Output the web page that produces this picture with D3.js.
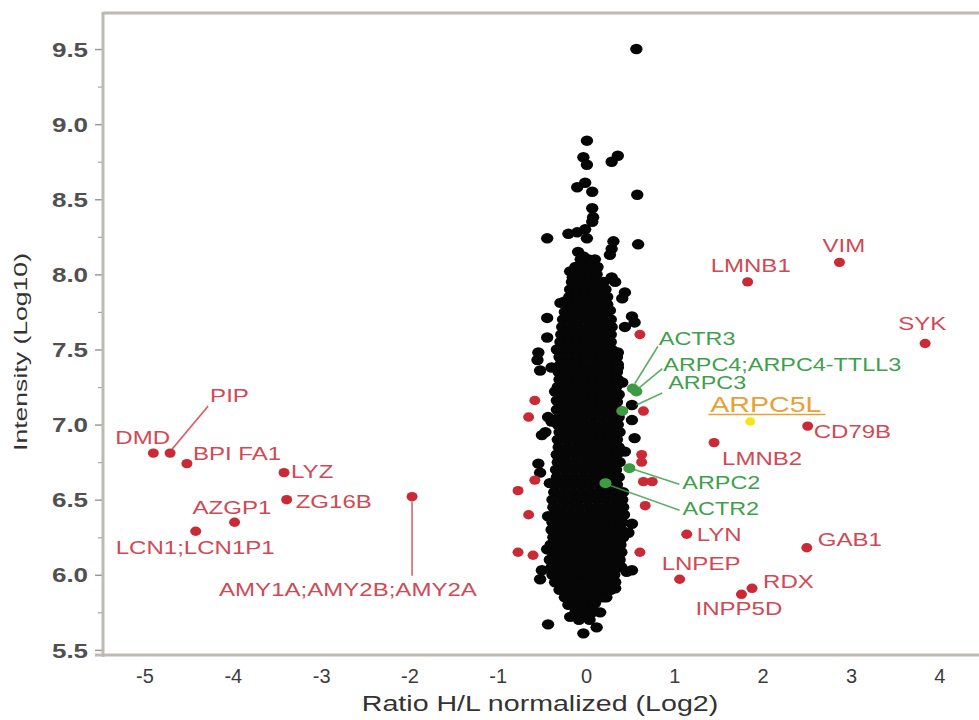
<!DOCTYPE html>
<html><head><meta charset="utf-8">
<script src="https://cdn.jsdelivr.net/npm/d3@7"></script>
<style>body{margin:0;background:#fff}</style>
</head><body><svg id="c" width="979" height="720"></svg>
<script>
// ---------- DATA ----------
const xTicks = [-5,-4,-3,-2,-1,0,1,2,3,4];
const yTicks = [5.5,6,6.5,7,7.5,8,8.5,9,9.5];
const yMinorTicks = [5.75,6.25,6.75,7.25,7.75,8.25,8.75,9.25];

// dense core of the unregulated proteins: [intensity, [ratios...]]
const cloudRows = [
 [8.10,[-0.06,0.03,0.10]],
 [8.05,[-0.12,-0.03,0.06,0.13]],
 [8.00,[-0.14,-0.05,0.04,0.12]],
 [7.95,[-0.16,-0.07,0.02,0.11,0.20]],
 [7.90,[-0.18,-0.09,0.00,0.09,0.17]],
 [7.85,[-0.19,-0.10,-0.01,0.08,0.17]],
 [7.80,[-0.21,-0.12,-0.03,0.06,0.15,0.24]],
 [7.75,[-0.24,-0.15,-0.05,0.04,0.13,0.21]],
 [7.70,[-0.26,-0.16,-0.07,0.02,0.11,0.20,0.28]],
 [7.65,[-0.27,-0.17,-0.08,0.02,0.11,0.20,0.29]],
 [7.60,[-0.28,-0.19,-0.09,0.00,0.10,0.19,0.28]],
 [7.55,[-0.29,-0.19,-0.10,0.00,0.09,0.19,0.28]],
 [7.50,[-0.28,-0.18,-0.09,0.01,0.10,0.20,0.29]],
 [7.45,[-0.30,-0.20,-0.10,-0.01,0.09,0.18,0.27,0.35]],
 [7.40,[-0.29,-0.19,-0.10,0.00,0.10,0.19,0.28,0.36]],
 [7.35,[-0.31,-0.21,-0.11,-0.02,0.08,0.17,0.27,0.35]],
 [7.30,[-0.30,-0.20,-0.10,-0.01,0.09,0.18,0.27,0.36]],
 [7.25,[-0.32,-0.22,-0.12,-0.03,0.07,0.16,0.26,0.34]],
 [7.20,[-0.30,-0.21,-0.11,-0.01,0.08,0.18,0.27,0.37]],
 [7.15,[-0.31,-0.21,-0.12,-0.02,0.08,0.17,0.26,0.35]],
 [7.10,[-0.33,-0.23,-0.13,-0.03,0.06,0.16,0.25,0.34]],
 [7.05,[-0.31,-0.21,-0.11,-0.02,0.08,0.18,0.28,0.37]],
 [7.00,[-0.32,-0.22,-0.12,-0.02,0.07,0.17,0.27,0.36]],
 [6.95,[-0.30,-0.20,-0.10,0.00,0.09,0.19,0.28,0.38]],
 [6.90,[-0.32,-0.22,-0.12,-0.02,0.07,0.17,0.26,0.35]],
 [6.85,[-0.31,-0.21,-0.11,-0.01,0.08,0.18,0.28,0.37]],
 [6.80,[-0.33,-0.23,-0.13,-0.03,0.07,0.16,0.26,0.35]],
 [6.75,[-0.32,-0.22,-0.12,-0.02,0.08,0.18,0.28,0.38]],
 [6.70,[-0.34,-0.24,-0.14,-0.04,0.06,0.15,0.25,0.34]],
 [6.65,[-0.33,-0.23,-0.13,-0.03,0.07,0.17,0.27,0.37]],
 [6.60,[-0.35,-0.25,-0.15,-0.05,0.05,0.15,0.25,0.35]],
 [6.55,[-0.36,-0.26,-0.16,-0.06,0.04,0.14,0.24,0.34,0.42]],
 [6.50,[-0.38,-0.28,-0.18,-0.08,0.02,0.12,0.22,0.32,0.41]],
 [6.45,[-0.37,-0.27,-0.17,-0.07,0.03,0.13,0.23,0.33,0.42]],
 [6.40,[-0.36,-0.26,-0.16,-0.06,0.04,0.14,0.24,0.34,0.43]],
 [6.35,[-0.38,-0.28,-0.18,-0.08,0.02,0.12,0.22,0.32,0.41]],
 [6.30,[-0.39,-0.29,-0.19,-0.09,0.01,0.11,0.21,0.31,0.40]],
 [6.25,[-0.37,-0.27,-0.17,-0.07,0.03,0.13,0.23,0.33,0.42]],
 [6.20,[-0.40,-0.30,-0.20,-0.10,0.00,0.10,0.20,0.30,0.39]],
 [6.15,[-0.38,-0.28,-0.18,-0.08,0.02,0.12,0.22,0.32,0.40]],
 [6.10,[-0.41,-0.31,-0.21,-0.11,-0.01,0.09,0.19,0.29,0.38]],
 [6.05,[-0.39,-0.29,-0.19,-0.09,0.01,0.11,0.21,0.31,0.40]],
 [6.00,[-0.38,-0.28,-0.18,-0.08,0.02,0.12,0.22,0.32]],
 [5.95,[-0.35,-0.25,-0.15,-0.05,0.05,0.15,0.25,0.33]],
 [5.90,[-0.30,-0.20,-0.10,0.00,0.10,0.20,0.28]],
 [5.85,[-0.24,-0.14,-0.04,0.06,0.15,0.23]],
 [5.80,[-0.20,-0.10,0.00,0.08]],
 [5.75,[-0.12,-0.02,0.07,0.16]],
 [5.70,[-0.08,0.04]]
];

// scattered unregulated proteins around the core: [ratio, intensity]
const cloudPoints = [
 [0.57,9.50],[0.01,8.89],[-0.03,8.78],[0.01,8.73],[0.36,8.79],[0.29,8.75],[-0.10,8.58],[-0.01,8.61],
 [0.07,8.55],[0.58,8.53],[0.07,8.44],[0.08,8.38],[0.07,8.35],[-0.44,8.24],[-0.20,8.27],[-0.10,8.28],
 [-0.01,8.30],[0.01,8.24],[0.31,8.22],[0.29,8.17],[0.27,8.13],[0.59,8.20],[-0.09,8.15],[-0.03,8.12],
 [0.07,8.08],[0.12,8.04],[-0.18,8.02],[-0.15,7.98],[0.29,7.98],[0.33,7.95],[0.22,7.90],[0.24,7.85],
 [0.44,7.88],[0.41,7.84],[-0.24,7.82],[-0.29,7.81],[-0.44,7.71],[0.27,7.76],[0.52,7.72],[0.44,7.65],
 [0.55,7.68],[-0.44,7.58],[-0.54,7.48],[-0.33,7.50],[0.36,7.48],[-0.52,7.36],[-0.39,7.38],[-0.55,7.43],
 [-0.35,7.22],[-0.33,7.16],[-0.43,7.05],[-0.39,7.02],[-0.46,6.95],[-0.50,6.93],[-0.33,6.80],[-0.54,6.74],
 [-0.52,6.68],[-0.41,6.61],[0.36,7.38],[0.41,7.28],[0.33,7.14],[0.52,7.13],[0.52,7.03],[0.55,6.91],
 [0.44,6.82],[-0.43,6.39],[0.52,6.34],[0.48,6.28],[-0.44,6.17],[-0.50,6.03],[-0.52,5.97],[0.36,6.17],
 [0.52,6.03],[0.46,6.02],[0.33,5.91],[-0.43,5.67],[-0.18,5.72],[0.01,5.72],[-0.03,5.61],[0.12,5.65],
 [0.19,5.85],[0.10,5.81],[-0.05,5.80],[-0.15,5.80]
];

// regulated proteins (red), labeled
const redNames = ["DMD","PIP","BPI FA1","LYZ","ZG16B","AZGP1","LCN1;LCN1P1","AMY1A;AMY2B;AMY2A",
                  "VIM","LMNB1","SYK","CD79B","LMNB2","LYN","GAB1","LNPEP","RDX","INPP5D"];
const redX = [-4.90,-4.71,-4.52,-3.42,-3.39,-3.98,-4.42,-1.97, 2.87,1.83,3.84,2.51,1.45,1.14,2.50,1.06,1.88,1.76];
const redY = [ 6.81, 6.81, 6.74, 6.68, 6.50, 6.35, 6.29, 6.52, 8.08,7.95,7.54,6.99,6.88,6.27,6.18,5.97,5.91,5.87];

// regulated proteins (red), unlabeled near the core
const redExtraX = [0.61,0.65,0.63,0.63,0.65,0.75,0.67,0.61,-0.58,-0.65,-0.58,-0.77,-0.65,-0.77,-0.60];
const redExtraY = [7.60,7.09,6.80,6.75,6.62,6.62,6.46,6.15, 7.16, 7.05, 6.63, 6.56, 6.40, 6.15, 6.13];

// Arp2/3 complex members (green)
const greenNames = ["ACTR3","ARPC4;ARPC4-TTLL3","ARPC3","ARPC2","ACTR2"];
const greenX = [0.53,0.57,0.41,0.49,0.22];
const greenY = [7.24,7.22,7.09,6.71,6.61];

// highlighted protein (yellow)
const highlightName = "ARPC5L";
const highlightX = 1.86;
const highlightY = 7.02;

// ---------- LAYOUT (pixel offsets of labels relative to their point) ----------
const labelLayout = {
 "DMD":{dx:-38,dy:-9},
 "PIP":{dx:40,dy:-51,line:[2,-4,38,-47]},
 "BPI FA1":{dx:6,dy:-4},
 "LYZ":{dx:7,dy:5},
 "ZG16B":{dx:9,dy:8},
 "AZGP1":{dx:-42,dy:-8},
 "LCN1;LCN1P1":{dx:-80,dy:23},
 "AMY1A;AMY2B;AMY2A":{dx:-193,dy:99,line:[0,5,0,79]},
 "VIM":{dx:-17,dy:-10},
 "LMNB1":{dx:-37,dy:-10},
 "SYK":{dx:-27,dy:-13},
 "CD79B":{dx:6,dy:12},
 "LMNB2":{dx:8,dy:22},
 "LYN":{dx:10,dy:7},
 "GAB1":{dx:11,dy:-2},
 "LNPEP":{dx:-18,dy:-9},
 "RDX":{dx:11,dy:0},
 "INPP5D":{dx:-46,dy:21},
 "ACTR3":{dx:26,dy:-44,line:[2,-5,25,-42]},
 "ARPC4;ARPC4-TTLL3":{dx:27,dy:-21,line:[3,-4,26,-23]},
 "ARPC3":{dx:46,dy:-22,line:[14,-6,40,-18]},
 "ARPC2":{dx:53,dy:21,line:[4,1,50,16]},
 "ACTR2":{dx:77,dy:32,line:[4,2,74,27]},
 "ARPC5L":{dx:-40,dy:-10}
};

// ---------- CHART ----------
const svg = d3.select("#c");
svg.append("rect").attr("width",979).attr("height",720).attr("fill","#fff");

const x = d3.scaleLinear().domain([-5.47,4.45]).range([103,979]);
const y = d3.scaleLinear().domain([5.466,9.74]).range([655,13]);

const FONT = "'Liberation Sans', Arial, Helvetica, sans-serif";
const SX = 1.3;
const frameColor = "#bdb9b5";

// frame
svg.append("line").attr("x1",103).attr("x2",979).attr("y1",13).attr("y2",13)
  .attr("stroke",frameColor).attr("stroke-width",3);

// y axis
const yAxis = d3.axisLeft(y).tickValues(yTicks).tickFormat(d3.format(".1f")).tickSize(8).tickPadding(0);
const gy = svg.append("g").attr("transform","translate(103,0)").call(yAxis);
gy.select(".domain").remove();
gy.selectAll(".tick line").attr("stroke","#9a9a9a").attr("stroke-width",1.5);
gy.selectAll(".tick text")
  .attr("x",-11.5).attr("dy","0.36em")
  .attr("transform",`scale(${SX},1)`)
  .attr("font-family",FONT).attr("font-weight","bold").attr("font-size",20)
  .attr("fill","#505050");
const yMinor = d3.axisLeft(y).tickValues(yMinorTicks).tickSize(5).tickFormat("");
const gym = svg.append("g").attr("transform","translate(103,0)").call(yMinor);
gym.select(".domain").remove();
gym.selectAll(".tick line").attr("stroke","#a5a5a5").attr("stroke-width",1.2);
svg.append("line").attr("x1",103).attr("x2",103).attr("y1",12).attr("y2",657)
  .attr("stroke",frameColor).attr("stroke-width",3);

// x axis
const xAxis = d3.axisBottom(x).tickValues(xTicks).tickFormat(d3.format("d")).tickSize(0).tickPadding(14);
const gx = svg.append("g").attr("transform","translate(0,655)").call(xAxis);
gx.select(".domain").remove();
gx.selectAll(".tick text")
  .attr("font-family",FONT).attr("font-size",20).attr("fill","#3c3c3c")
  .text(d => d < 0 ? "-" + Math.abs(d) : String(d));
svg.append("line").attr("x1",95).attr("x2",979).attr("y1",655).attr("y2",655)
  .attr("stroke",frameColor).attr("stroke-width",3);

// axis titles
svg.append("text")
  .attr("transform",`translate(540,711) scale(${SX},1)`)
  .attr("text-anchor","middle").attr("font-family",FONT).attr("font-size",22).attr("fill","#333")
  .text("Ratio H/L normalized (Log2)");
svg.append("text")
  .attr("transform","translate(27,352) rotate(-90)")
  .attr("text-anchor","middle").attr("font-family",FONT).attr("font-size",18).attr("fill","#333")
  .attr("textLength",198).attr("lengthAdjust","spacingAndGlyphs")
  .text("Intensity (Log10)");

// black cloud
const cloud = [];
cloudRows.forEach(([iy, xs]) => xs.forEach(ix => cloud.push([ix, iy])));
cloudPoints.forEach(p => cloud.push(p));
svg.append("g").selectAll("ellipse").data(cloud).join("ellipse")
  .attr("cx",d=>x(d[0])).attr("cy",d=>y(d[1])).attr("rx",6.2).attr("ry",5.2).attr("fill","#060606");

// helper for labels
function drawLabel(name, px, py, color, size) {
  const L = labelLayout[name] || {dx:6,dy:0};
  if (L.line) {
    svg.append("line")
      .attr("x1",px+L.line[0]).attr("y1",py+L.line[1]).attr("x2",px+L.line[2]).attr("y2",py+L.line[3])
      .attr("stroke",color).attr("stroke-width",1.6).attr("opacity",0.85);
  }
  svg.append("text")
    .attr("transform",`translate(${px+L.dx},${py+L.dy}) scale(${SX},1)`)
    .attr("font-family",FONT).attr("font-size",size).attr("fill",color)
    .text(name);
}

const redDot = "#c92a36", redText = "#cf4a55";
const greenDot = "#3d9b42", greenText = "#3f9f4c";

// unlabeled red
svg.append("g").selectAll("ellipse").data(redExtraX.map((v,i)=>[v,redExtraY[i]])).join("ellipse")
  .attr("cx",d=>x(d[0])).attr("cy",d=>y(d[1])).attr("rx",5.5).attr("ry",4.7).attr("fill",redDot);

// labeled red
redNames.forEach((n,i)=>{
  const px = x(redX[i]), py = y(redY[i]);
  drawLabel(n, px, py, redText, 18.5);
});
svg.append("g").selectAll("ellipse").data(redNames.map((n,i)=>[redX[i],redY[i]])).join("ellipse")
  .attr("cx",d=>x(d[0])).attr("cy",d=>y(d[1])).attr("rx",5.5).attr("ry",4.7).attr("fill",redDot);

// green
greenNames.forEach((n,i)=>{
  drawLabel(n, x(greenX[i]), y(greenY[i]), greenText, 18);
});
svg.append("g").selectAll("ellipse").data(greenNames.map((n,i)=>[greenX[i],greenY[i]])).join("ellipse")
  .attr("cx",d=>x(d[0])).attr("cy",d=>y(d[1])).attr("rx",6).attr("ry",5).attr("fill",greenDot);

// highlighted ARPC5L
{
  const px = x(highlightX), py = y(highlightY);
  const L = labelLayout[highlightName];
  const t = svg.append("text")
    .attr("transform",`translate(${px+L.dx},${py+L.dy}) scale(${SX},1)`)
    .attr("font-family",FONT).attr("font-size",22).attr("fill","#e6a237")
    .text(highlightName);
  const w = t.node().getComputedTextLength()*SX;
  svg.append("line").attr("x1",px+L.dx-2).attr("x2",px+L.dx+w+4)
    .attr("y1",py+L.dy+3).attr("y2",py+L.dy+3).attr("stroke","#e6a237").attr("stroke-width",1.6);
  svg.append("ellipse").attr("cx",px).attr("cy",py).attr("rx",5).attr("ry",4.3).attr("fill","#f3e61a");
}
</script>
</body></html>
